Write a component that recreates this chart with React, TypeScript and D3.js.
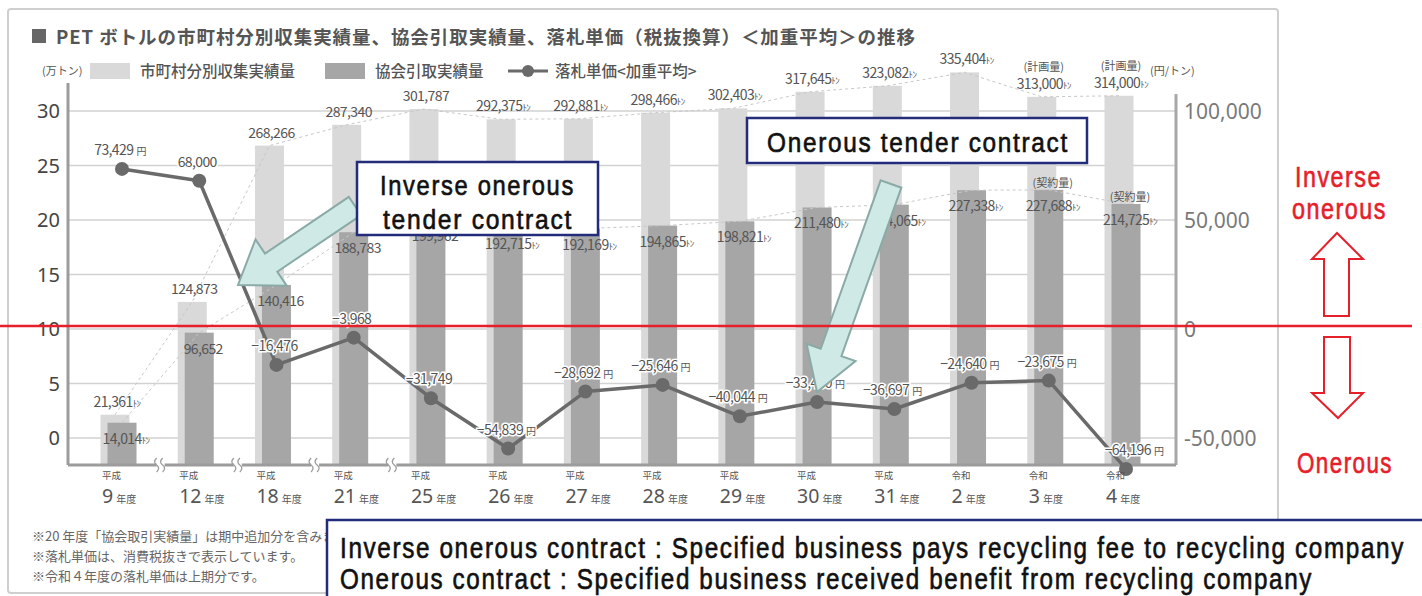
import React from 'react';
import * as d3 from 'd3';

// categories (fiscal years)
const eras = ['平成', '平成', '平成', '平成', '平成', '平成', '平成', '平成', '平成', '平成', '平成', '令和', '令和', '令和'];
const years = ['9', '12', '18', '21', '25', '26', '27', '28', '29', '30', '31', '2', '3', '4'];
const categories = years.map((y, i) => eras[i] + y);

// series values
const municipalTons = [21361, 124873, 268266, 287340, 301787, 292375, 292881, 298466, 302403, 317645, 323082, 335404, 313000, 314000];
const councilTons = [14014, 96652, 140416, 188783, 199962, 192715, 192169, 194865, 198821, 211480, 214065, 227338, 227688, 214725];
const bidPrice = [73429, 68000, -16476, -3968, -31749, -54839, -28692, -25646, -40044, -33460, -36697, -24640, -23675, -64196];
const municipalNotes = ['', '', '', '', '', '', '', '', '', '', '', '', '(計画量)', '(計画量)'];
const councilNotes = ['', '', '', '', '', '', '', '', '', '', '', '', '(契約量)', '(契約量)'];

// tick labels
const leftTicks = [0, 5, 10, 15, 20, 25, 30];
const rightTicks = [100000, 50000, 0, -50000];
const breaksAfter = [0, 1, 2, 3];

const notes = [
  '※20 年度「協会取引実績量」は期中追加分を含みます。',
  '※落札単価は、消費税抜きで表示しています。',
  '※令和４年度の落札単価は上期分です。',
];

const JP = "'Noto Sans CJK JP', 'Noto Sans', sans-serif";
const NARROW = "'Liberation Sans', 'DejaVu Sans', sans-serif";
const LIGHT = '#d9d9d9';
const DARK = '#a6a6a6';
const LINE = '#6a6a6a';
const NAVY = '#232c7a';
const RED = '#e6202a';

const plot = { left: 68, right: 1176, top: 83, bottom: 465 };

const fmt = d3.format(',');

// arrow polygon from tail to tip
function arrowPath(x1: number, y1: number, x2: number, y2: number, shaft: number, head: number, headLen: number) {
  const dx = x2 - x1, dy = y2 - y1;
  const len = Math.hypot(dx, dy);
  const ux = dx / len, uy = dy / len;
  const px = -uy, py = ux;
  const bx = x2 - ux * headLen, by = y2 - uy * headLen;
  const pts = [
    [x1 + px * shaft / 2, y1 + py * shaft / 2],
    [bx + px * shaft / 2, by + py * shaft / 2],
    [bx + px * head / 2, by + py * head / 2],
    [x2, y2],
    [bx - px * head / 2, by - py * head / 2],
    [bx - px * shaft / 2, by - py * shaft / 2],
    [x1 - px * shaft / 2, y1 - py * shaft / 2],
  ];
  return 'M' + pts.map(p => p.join(',')).join('L') + 'Z';
}

// narrow, tall, widely spaced gothic-like text (stretched vertically)
function Narrow({ x, y, len, size = 29, fill = '#111', children }:
  { x: number; y: number; len: number; size?: number; fill?: string; children: string }) {
  const sy = 1.3;
  return (
    <text transform={`translate(${x},${y}) scale(1,${sy})`} fontFamily={NARROW} fontSize={size / sy}
      fill={fill} stroke={fill} strokeWidth={0.5} letterSpacing={1.5}
      textLength={len} lengthAdjust="spacingAndGlyphs">{children}</text>
  );
}

function Chart() {
  const x = d3.scalePoint<string>().domain(categories).range([122, 1126]);
  const yL = d3.scaleLinear().domain([0, 30]).range([438, 111]);
  const yR = d3.scaleLinear().domain([-50000, 100000]).range([438, 111]);
  const barW = 29;
  const offset = 7;

  const cx = (i: number) => x(categories[i]) as number;

  const priceLine = d3.line<number>()
    .x((_, i) => cx(i))
    .y(d => yR(d));

  const lightLink = d3.line<number>()
    .x((_, i) => cx(i) - offset)
    .y(d => yL(d / 10000));
  const darkLink = d3.line<number>()
    .x((_, i) => cx(i))
    .y(d => yL(d / 10000));

  const breakXs = breaksAfter.map(i => (cx(i) + cx(i + 1)) / 2);

  return (
    <svg width={1422} height={596} style={{ display: 'block', background: '#fff' }}>
      {/* outer frame */}
      <rect x={8} y={9} width={1270} height={584} rx={3} fill="none" stroke="#cfcfcf" strokeWidth={2} />

      {/* title */}
      <rect x={32} y={29} width={14} height={14} fill="#666" />
      <text x={56} y={44} fontFamily={JP} fontWeight={700} fontSize={18.5} fill="#555" textLength={859} lengthAdjust="spacing">
        PET ボトルの市町村分別収集実績量、協会引取実績量、落札単価（税抜換算）＜加重平均＞の推移
      </text>

      {/* legend */}
      <text x={42} y={75} fontFamily={JP} fontSize={11} fill="#555">(万トン)</text>
      <rect x={90} y={63} width={40} height={16} fill={LIGHT} />
      <text x={140} y={77} fontFamily={JP} fontWeight={500} fontSize={15.5} fill="#555">市町村分別収集実績量</text>
      <rect x={325} y={63} width={40} height={16} fill={DARK} />
      <text x={375} y={77} fontFamily={JP} fontWeight={500} fontSize={15.5} fill="#555">協会引取実績量</text>
      <line x1={508} x2={548} y1={71} y2={71} stroke={LINE} strokeWidth={3} />
      <circle cx={528} cy={71} r={6} fill={LINE} />
      <text x={555} y={77} fontFamily={JP} fontWeight={500} fontSize={15.5} fill="#555">落札単価&lt;加重平均&gt;</text>
      <text x={1150} y={75} fontFamily={JP} fontSize={11} fill="#555">(円/トン)</text>

      {/* grid */}
      {leftTicks.map(t => (
        <line key={t} x1={plot.left} x2={plot.right} y1={yL(t)} y2={yL(t)} stroke="#d2d2d2" strokeWidth={1.5} />
      ))}

      {/* left ticks */}
      {leftTicks.map(t => (
        <text key={t} x={60} y={yL(t) + 7} textAnchor="end" fontFamily="'Noto Sans', sans-serif" fontSize={20} fill="#444">{t}</text>
      ))}

      {/* right ticks */}
      {rightTicks.map(t => (
        <text key={t} x={1184} y={yR(t) + 8} fontFamily="'Noto Sans', sans-serif" fontSize={21} fill="#7a7a7a">
          {t < 0 ? '-' + fmt(-t) : fmt(t)}
        </text>
      ))}

      {/* bars */}
      {municipalTons.map((v, i) => (
        <rect key={'m' + i} x={cx(i) - offset - barW / 2} y={yL(v / 10000)} width={barW}
          height={plot.bottom - yL(v / 10000)} fill={LIGHT} />
      ))}
      {councilTons.map((v, i) => (
        <rect key={'c' + i} x={cx(i) - barW / 2} y={yL(v / 10000)} width={barW}
          height={plot.bottom - yL(v / 10000)} fill={DARK} />
      ))}

      {/* dashed links */}
      <path d={lightLink(municipalTons) || ''} fill="none" stroke="#c8c8c8" strokeWidth={1} strokeDasharray="3,3" />
      <path d={darkLink(councilTons) || ''} fill="none" stroke="#c8c8c8" strokeWidth={1} strokeDasharray="3,3" />

      {/* axes frame */}
      <line x1={plot.left} x2={plot.left} y1={plot.top} y2={plot.bottom} stroke="#9c9c9c" strokeWidth={3} />
      <line x1={plot.right} x2={plot.right} y1={94} y2={plot.bottom} stroke="#a8a8a8" strokeWidth={3} />
      <line x1={plot.left} x2={plot.right} y1={plot.bottom} y2={plot.bottom} stroke="#9c9c9c" strokeWidth={3} />
      {breakXs.map((bx, i) => (
        <g key={i} fill="none" stroke="#9c9c9c" strokeWidth={1.3}>
          <rect x={bx - 4} y={plot.bottom - 3} width={8} height={6} fill="#fff" stroke="none" />
          <path d={`M${bx - 4},${plot.bottom + 7} q4,-4 0,-7 q-4,-3 0,-7`} />
          <path d={`M${bx + 2},${plot.bottom + 7} q4,-4 0,-7 q-4,-3 0,-7`} />
        </g>
      ))}

      {/* bar labels */}
      {municipalTons.map((v, i) => {
        const top = yL(v / 10000);
        const unit = i === 0 || i >= 5;
        return (
          <g key={'ml' + i} fontFamily={JP} fill="#555" textAnchor="middle">
            {municipalNotes[i] && (
              <text x={cx(i) - offset + 2} y={top - 26} fontSize={11}>{municipalNotes[i]}</text>
            )}
            <text x={cx(i) - offset + 2} y={top - 8} fontSize={14} letterSpacing={-0.6}>
              {fmt(v)}{unit && <tspan fontSize={9}>ﾄﾝ</tspan>}
            </text>
          </g>
        );
      })}
      {councilTons.map((v, i) => {
        const top = yL(v / 10000);
        const unit = i === 0 || i >= 5;
        return (
          <g key={'cl' + i} fontFamily={JP} fill="#555" textAnchor="middle">
            {councilNotes[i] && (
              <text x={cx(i) + 4} y={top - 3} fontSize={11}>{councilNotes[i]}</text>
            )}
            <text x={cx(i) + 4} y={top + 21} fontSize={14} letterSpacing={-0.6}>
              {fmt(v)}{unit && <tspan fontSize={9}>ﾄﾝ</tspan>}
            </text>
          </g>
        );
      })}

      {/* price line */}
      <path d={priceLine(bidPrice) || ''} fill="none" stroke={LINE} strokeWidth={3.5} strokeLinejoin="round" />
      {bidPrice.map((v, i) => (
        <circle key={'p' + i} cx={cx(i)} cy={yR(v)} r={7} fill={LINE} />
      ))}
      {bidPrice.map((v, i) => (
        <text key={'pl' + i} x={cx(i) + (i === 13 ? 8 : -2)} y={yR(v) - 14} textAnchor="middle" fontFamily={JP}
          fontSize={14} fill="#555" letterSpacing={-0.6} stroke="#fff" strokeWidth={3} paintOrder="stroke">
          {fmt(v)}{(i === 0 || i >= 5) && <tspan fontSize={10} dx={3}>円</tspan>}
        </text>
      ))}

      {/* x labels */}
      {categories.map((c, i) => (
        <g key={c} fontFamily={JP} fill="#555">
          <text x={cx(i) - 20} y={479} fontSize={9.5}>{eras[i]}</text>
          <text x={cx(i) - 20} y={503}>
            <tspan fontSize={19.5} fontFamily="'Noto Sans', sans-serif">{years[i]}</tspan>
            <tspan fontSize={10} dx={3}>年度</tspan>
          </text>
        </g>
      ))}

      {/* footnotes */}
      {notes.map((n, i) => (
        <text key={i} x={32} y={541 + i * 20} fontFamily={JP} fontSize={13} fill="#666">{n}</text>
      ))}

      {/* teal arrows */}
      <path d={arrowPath(355, 206, 238, 285, 22, 56, 40)} fill="#cfe9e7" stroke="#8aaaa6" strokeWidth={2} />
      <path d={arrowPath(891, 184, 817, 392, 22, 52, 42)} fill="#cfe9e7" stroke="#8aaaa6" strokeWidth={2} />

      {/* callout boxes */}
      <rect x={357} y={162} width={241} height={73} fill="#fff" stroke={NAVY} strokeWidth={2.5} />
      <Narrow x={380} y={195} len={195} size={28}>Inverse onerous</Narrow>
      <Narrow x={383} y={229} len={190} size={28}>tender contract</Narrow>
      <rect x={747} y={118} width={340} height={45} fill="#fff" stroke={NAVY} strokeWidth={2.5} />
      <Narrow x={767} y={152} len={302} size={28}>Onerous tender contract</Narrow>

      {/* zero reference line */}
      <line x1={0} x2={1412} y1={326} y2={326} stroke={RED} strokeWidth={2.5} />

      {/* right annotations */}
      <rect x={1285} y={160} width={110} height={66} fill="#fff" />
      <rect x={1285} y={445} width={115} height={34} fill="#fff" />
      <Narrow x={1295} y={187} len={87} size={30} fill={RED}>Inverse</Narrow>
      <Narrow x={1292} y={219} len={95} size={30} fill={RED}>onerous</Narrow>
      <path d="M1337,233 L1363,259 L1349,259 L1349,316 L1324,316 L1324,259 L1312,259 Z" fill="#fff" stroke={RED} strokeWidth={2} />
      <path d="M1338,418 L1363,393 L1350,393 L1350,337 L1324,337 L1324,393 L1312,393 Z" fill="#fff" stroke={RED} strokeWidth={2} />
      <Narrow x={1297} y={473} len={96} size={30} fill={RED}>Onerous</Narrow>

      {/* definition box */}
      <rect x={327} y={520} width={1100} height={82} fill="#fff" stroke={NAVY} strokeWidth={2.5} />
      <Narrow x={340} y={558} len={1065}>Inverse onerous contract : Specified business pays recycling fee to recycling company</Narrow>
      <Narrow x={340} y={589} len={973}>Onerous contract : Specified business received benefit from recycling company</Narrow>
    </svg>
  );
}

export default function App() {
  return (
    <div style={{ position: 'absolute', left: 0, top: 0, width: 1422, height: 596 }}>
      <Chart />
    </div>
  );
}
